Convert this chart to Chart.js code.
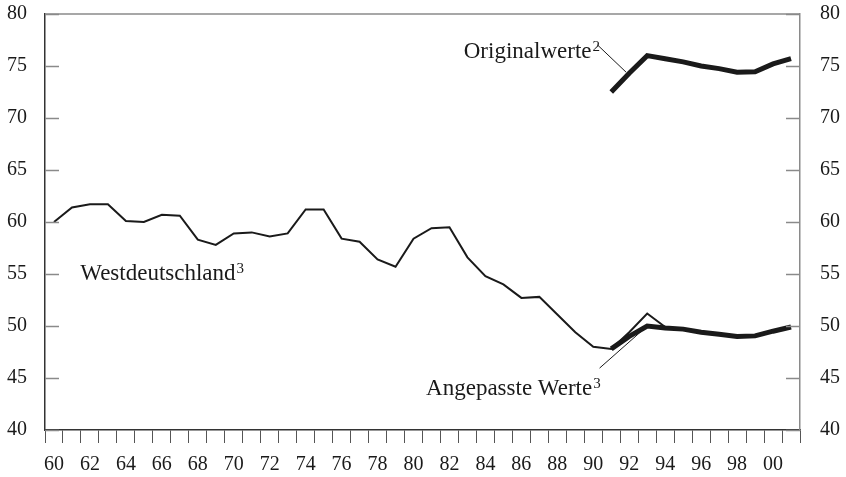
<!DOCTYPE html>
<html>
<head>
<meta charset="utf-8">
<script src="https://cdn.jsdelivr.net/npm/chart.js@4/dist/chart.umd.min.js"></script>
<style>
  html, body { margin: 0; padding: 0; background: #fff; }
  #chart { display: block; }
</style>
</head>
<body>
<canvas id="chart" width="846" height="477"></canvas>
<script>
// categories: years 1960 - 2001
const years = [1960, 1961, 1962, 1963, 1964, 1965, 1966, 1967, 1968, 1969,
               1970, 1971, 1972, 1973, 1974, 1975, 1976, 1977, 1978, 1979,
               1980, 1981, 1982, 1983, 1984, 1985, 1986, 1987, 1988, 1989,
               1990, 1991, 1992, 1993, 1994, 1995, 1996, 1997, 1998, 1999,
               2000, 2001];

// Westdeutschland, 1960 - 1994
const westdeutschland = [60.0, 61.4, 61.7, 61.7, 60.1, 60.0, 60.7, 60.6, 58.3, 57.8,
                         58.9, 59.0, 58.6, 58.9, 61.2, 61.2, 58.4, 58.1, 56.4, 55.7,
                         58.4, 59.4, 59.5, 56.6, 54.8, 54.0, 52.7, 52.8, 51.1, 49.4,
                         48.0, 47.8, 49.4, 51.2, 49.9];

// Angepasste Werte, 1991 - 2001
const angepassteWerte = [47.8, 49.0, 50.0, 49.8, 49.7, 49.4, 49.2, 49.0, 49.05, 49.5, 49.9];

// Originalwerte, 1991 - 2001
const originalwerte = [72.5, 74.3, 76.0, 75.7, 75.4, 75.0, 74.75, 74.4, 74.45, 75.2, 75.7];

const yTicks = [40, 45, 50, 55, 60, 65, 70, 75, 80];

// place a series on the full year axis
function onYears(startYear, values) {
    return years.map(y => {
        const i = y - startYear;
        return (i >= 0 && i < values.length) ? values[i] : null;
    });
}

const serif = "'Liberation Serif', 'DejaVu Serif', serif";
const ink = '#1a1a1a';

// text labels with leader lines, positioned in data units (year, value)
const notes = [
    { text: 'Originalwerte', sup: '2', endYear: 1989.9, base: 75.77,
      line: [1990.25, 77.0, 1991.83, 74.4] },
    { text: 'Westdeutschland', sup: '3', endYear: 1970.1, base: 54.42 },
    { text: 'Angepasste Werte', sup: '3', endYear: 1989.94, base: 43.37,
      line: [1990.35, 45.95, 1992.94, 49.9] }
];

const framePlugin = {
    id: 'frame',
    afterDatasetsDraw(chart) {
        const ctx = chart.ctx;
        const area = chart.chartArea;
        const x = chart.scales.x;
        const y = chart.scales.y;
        ctx.save();

        // top border
        ctx.strokeStyle = '#8a8a8a';
        ctx.lineWidth = 1.5;
        ctx.beginPath();
        ctx.moveTo(area.left, area.top);
        ctx.lineTo(area.right, area.top);
        ctx.stroke();

        // inner tick marks on both y axes
        ctx.strokeStyle = '#8a8a8a';
        ctx.lineWidth = 1.5;
        yTicks.forEach(v => {
            const py = Math.round(y.getPixelForValue(v)) + 0.5;
            ctx.beginPath();
            ctx.moveTo(area.left, py);
            ctx.lineTo(area.left + 14, py);
            ctx.moveTo(area.right - 14, py);
            ctx.lineTo(area.right, py);
            ctx.stroke();
        });

        // annotations
        ctx.fillStyle = ink;
        ctx.strokeStyle = ink;
        ctx.lineWidth = 1;
        notes.forEach(n => {
            const px = x.getPixelForValue(n.endYear - years[0]);
            const py = y.getPixelForValue(n.base);
            ctx.font = '23px ' + serif;
            ctx.textAlign = 'right';
            ctx.textBaseline = 'alphabetic';
            ctx.fillText(n.text, px, py);
            ctx.font = '15px ' + serif;
            ctx.textAlign = 'left';
            ctx.fillText(n.sup, px + 1, py - 7);
            if (n.line) {
                ctx.beginPath();
                ctx.moveTo(x.getPixelForValue(n.line[0] - years[0]), y.getPixelForValue(n.line[1]));
                ctx.lineTo(x.getPixelForValue(n.line[2] - years[0]), y.getPixelForValue(n.line[3]));
                ctx.stroke();
            }
        });
        ctx.restore();
    }
};

const yCommon = {
    min: 40,
    max: 80,
    grid: { display: false, drawTicks: false },
    ticks: {
        stepSize: 5,
        color: ink,
        font: { family: serif, size: 20 }
    }
};

// fixed axis sizes so the plot area sits where the original has it
function fixVertical(width) {
    return s => {
        s.width = width;
        s.paddingTop = 0;
        s.paddingBottom = 0;
    };
}

new Chart(document.getElementById('chart'), {
    type: 'line',
    data: {
        labels: years.map(String),
        datasets: [
            {
                label: 'Westdeutschland',
                data: onYears(1960, westdeutschland),
                borderColor: ink,
                borderWidth: 2,
                pointRadius: 0,
                tension: 0,
                spanGaps: false
            },
            {
                label: 'Angepasste Werte',
                data: onYears(1991, angepassteWerte),
                borderColor: ink,
                borderWidth: 5,
                pointRadius: 0,
                tension: 0
            },
            {
                label: 'Originalwerte',
                data: onYears(1991, originalwerte),
                borderColor: ink,
                borderWidth: 5,
                pointRadius: 0,
                tension: 0
            }
        ]
    },
    options: {
        responsive: false,
        animation: false,
        devicePixelRatio: 1,
        layout: { padding: { top: 14, left: 0, right: 0, bottom: 0 } },
        plugins: {
            legend: { display: false },
            tooltip: { enabled: false }
        },
        scales: {
            x: {
                type: 'category',
                offset: true,
                afterFit: s => {
                    s.height = 47;
                    s.paddingLeft = 0;
                    s.paddingRight = 0;
                },
                border: { display: true, color: '#333', width: 1.5 },
                grid: {
                    offset: true,
                    drawOnChartArea: false,
                    drawTicks: true,
                    tickLength: 13,
                    color: '#555',
                    lineWidth: 1
                },
                ticks: {
                    autoSkip: false,
                    maxRotation: 0,
                    padding: 10,
                    color: ink,
                    font: { family: serif, size: 20 },
                    callback: (val, i) => {
                        const yr = years[i];
                        return yr % 2 === 0 ? String(yr % 100).padStart(2, '0') : '';
                    }
                }
            },
            y: {
                ...yCommon,
                position: 'left',
                afterFit: fixVertical(45),
                border: { display: true, color: '#333', width: 1.5 },
                ticks: { ...yCommon.ticks, padding: 18 }
            },
            y2: {
                ...yCommon,
                position: 'right',
                afterFit: fixVertical(46),
                border: { display: true, color: '#8a8a8a', width: 1.5 },
                ticks: { ...yCommon.ticks, padding: 20 }
            }
        }
    },
    plugins: [framePlugin]
});
</script>
</body>
</html>
